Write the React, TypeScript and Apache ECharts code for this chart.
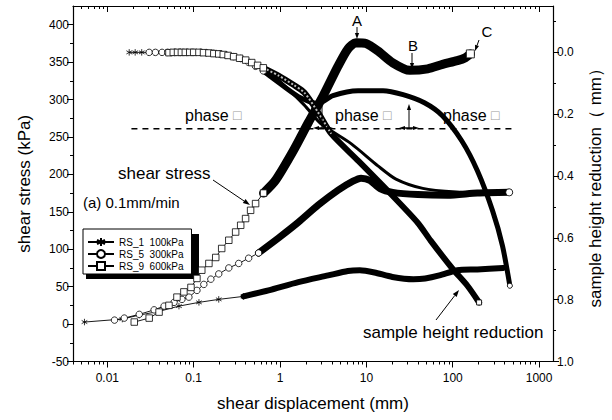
import React, { useEffect, useRef } from "react";
import * as echarts from "echarts";

// ---------- axis ticks ----------
const xLabelTicks = [0.01, 0.1, 1, 10, 100, 1000];
const xMinorTicks = [
  0.004, 0.005, 0.006, 0.007, 0.008, 0.009,
  0.02, 0.03, 0.04, 0.05, 0.06, 0.07, 0.08, 0.09,
  0.2, 0.3, 0.4, 0.5, 0.6, 0.7, 0.8, 0.9,
  2, 3, 4, 5, 6, 7, 8, 9,
  20, 30, 40, 50, 60, 70, 80, 90,
  200, 300, 400, 500, 600, 700, 800, 900,
];
const stressTicks = [-50, 0, 50, 100, 150, 200, 250, 300, 350, 400];
const stressMinorTicks = [-25, 25, 75, 125, 175, 225, 275, 325, 375];
const heightTicks = [0, 0.2, 0.4, 0.6, 0.8, 1.0];
const heightMinorTicks = [-0.1, 0.1, 0.3, 0.5, 0.7, 0.9];

// ---------- series data: [shear displacement (mm), value] ----------
const rs1Stress = [
  [0.00543, 2.7], [0.0149, 6.7], [0.0234, 12], [0.0397, 17], [0.0675, 24], [0.115, 29],
  [0.195, 33], [0.378, 37], [0.735, 45], [1.63, 56], [3.61, 65], [6.1, 71], [8.4, 72],
  [12.4, 69], [20, 63], [35, 60], [48, 61], [70, 65], [113, 72], [193, 73], [385, 75],
];
const rs5Stress = [
  [0.0121, 5.3], [0.0157, 8], [0.0234, 13], [0.0348, 19], [0.0454, 24], [0.0592, 29],
  [0.0731, 33], [0.088, 36], [0.109, 45], [0.131, 53], [0.158, 60], [0.195, 67],
  [0.255, 75], [0.332, 81], [0.433, 88], [0.564, 95], [0.96, 115], [1.63, 136],
  [2.77, 159], [4.71, 179], [7.0, 191], [8.67, 195], [11, 192], [14.4, 181], [20.2, 176],
  [39.3, 173], [87, 172], [193, 175], [451, 176],
];
const rs9Stress = [
  [0.0205, 2.7], [0.0305, 8], [0.0397, 16], [0.0517, 25], [0.064, 36], [0.077, 43],
  [0.093, 49], [0.109, 61], [0.124, 72], [0.15, 81], [0.18, 89], [0.211, 101],
  [0.255, 112], [0.306, 123], [0.35, 132], [0.399, 141], [0.456, 152], [0.521, 161],
  [0.644, 175], [0.885, 192], [1.43, 232], [2.12, 269], [3.16, 305], [4.71, 345],
  [6.14, 368], [7.59, 376], [9.89, 375], [13.6, 365], [20.2, 349], [31.8, 339],
  [51.3, 341], [76.3, 347], [113, 352], [140, 356], [160, 361],
];
const rs1Height = [
  [0.0179, 0.0], [0.021, 0.0], [0.025, 0.0], [0.03, 0.0], [0.035, 0.0], [0.042, 0.0],
  [0.05, 0.0], [0.06, 0.0], [0.07, 0.0], [0.085, 0.0], [0.1, 0.0], [0.12, 0.001],
  [0.15, 0.002], [0.18, 0.004], [0.22, 0.007], [0.27, 0.012], [0.33, 0.018], [0.43, 0.027],
  [0.55, 0.04], [0.7, 0.058], [0.96, 0.09], [1.9, 0.17], [2.98, 0.231], [6.7, 0.296],
  [13.6, 0.367], [22, 0.41], [45, 0.44], [110, 0.452], [250, 0.455], [440, 0.45],
];
const rs5Height = [
  [0.0305, 0.0], [0.036, 0.0], [0.043, 0.0], [0.05, 0.0], [0.06, 0.0], [0.07, 0.0],
  [0.083, 0.0], [0.1, 0.0], [0.12, 0.0], [0.14, 0.001], [0.17, 0.003], [0.2, 0.005],
  [0.24, 0.009], [0.29, 0.014], [0.35, 0.02], [0.43, 0.032], [0.52, 0.045], [0.64, 0.06],
  [0.84, 0.085], [1.63, 0.143], [2.77, 0.166], [4.1, 0.14], [8.0, 0.124], [15.6, 0.124],
  [26.6, 0.137], [47, 0.163], [76, 0.205], [127, 0.286], [193, 0.383], [289, 0.512],
  [377, 0.626], [459, 0.755],
];
const rs9Height = [
  [0.0517, 0.001], [0.058, 0.0], [0.065, 0.0], [0.072, 0.0], [0.08, 0.0], [0.09, 0.0],
  [0.1, 0.0], [0.115, 0.0], [0.13, 0.001], [0.15, 0.002], [0.171, 0.004], [0.195, 0.005],
  [0.22, 0.007], [0.25, 0.01], [0.29, 0.014], [0.34, 0.019], [0.4, 0.025], [0.47, 0.033],
  [0.55, 0.042], [0.64, 0.05], [0.96, 0.075], [1.43, 0.105], [1.91, 0.13], [2.77, 0.195],
  [3.91, 0.263], [8.0, 0.35], [17.7, 0.448], [39.3, 0.551], [55.5, 0.609], [99.5, 0.7],
  [148, 0.755], [202, 0.809],
];
const phaseBoundaryStress = 261;
const phaseLineX = [0.019, 515];

const legendNames = ["RS_1  100kPa", "RS_5  300kPa", "RS_9  600kPa"];

const ASTERISK = "path://M5,0L5,10M0.67,2.5L9.33,7.5M0.67,7.5L9.33,2.5";
const FONT = "Liberation Sans, Arial, Helvetica, sans-serif";

const markerStyle = { color: "#fff", borderColor: "#000", borderWidth: 0.8, opacity: 1 };

function curve(
  name: string,
  pts: number[][],
  split: number,
  symbol: string,
  yAxisIndex: number,
  bandWidth: number,
  hatched = false
) {
  const sparse = pts.filter((p) => p[0] <= split);
  const last = sparse[sparse.length - 1];
  const dense = pts.filter((p) => p[0] >= last[0]);
  const out: any[] = [
    {
      name,
      type: "line",
      yAxisIndex,
      data: sparse,
      symbol,
      symbolSize: 6.5,
      symbolKeepAspect: true,
      showAllSymbol: true,
      lineStyle: { color: "#000", width: 0.9 },
      itemStyle: markerStyle,
      z: 3,
    },
    {
      name: name + " band",
      type: "line",
      yAxisIndex,
      data: dense,
      symbol: "none",
      smooth: 0.25,
      lineStyle: { color: "#000", width: bandWidth, cap: "round", join: "round" },
      z: 2,
    },
  ];
  if (hatched) {
    out.push({
      name: name + " hatch",
      type: "line",
      yAxisIndex,
      data: dense.slice(0, 6),
      symbol: "none",
      smooth: 0.25,
      lineStyle: { color: "#bbb", width: 2, type: [2, 2] },
      z: 2,
    });
  }
  return out;
}

function endMarker(pt: number[], symbol: string, yAxisIndex: number, size = 7) {
  return {
    type: "scatter",
    yAxisIndex,
    data: [pt],
    symbol,
    symbolSize: size,
    itemStyle: markerStyle,
    z: 4,
    silent: true,
  };
}

function text(x: number, y: number, s: string, size: number, align = "left") {
  return {
    type: "text",
    x,
    y,
    z: 10,
    style: {
      text: s,
      fontSize: size,
      fontFamily: FONT,
      fill: "#000",
      align,
      verticalAlign: "middle",
    },
  };
}

function arrow(x1: number, y1: number, x2: number, y2: number, head = 7, w = 1) {
  const a = Math.atan2(y2 - y1, x2 - x1);
  const hx = x2 - head * Math.cos(a);
  const hy = y2 - head * Math.sin(a);
  const px = head * 0.35 * Math.sin(a);
  const py = -head * 0.35 * Math.cos(a);
  return [
    { type: "line", z: 10, shape: { x1, y1, x2: hx, y2: hy }, style: { stroke: "#000", lineWidth: w } },
    {
      type: "polygon",
      z: 10,
      shape: { points: [[x2, y2], [hx + px, hy + py], [hx - px, hy - py]] },
      style: { fill: "#000" },
    },
  ];
}

function doubleArrow(xc: number, y: number, half: number) {
  return [...arrow(xc, y, xc - half, y, 6, 1.5), ...arrow(xc, y, xc + half, y, 6, 1.5)];
}

function phaseText(x: number) {
  return {
    type: "text",
    x,
    y: 115,
    z: 10,
    style: {
      text: "phase {b|□}",
      fontSize: 16,
      fontFamily: FONT,
      fill: "#000",
      verticalAlign: "middle",
      rich: { b: { fontSize: 14, fill: "#999", fontFamily: FONT } },
    },
  };
}

export default function App() {
  const ref = useRef<HTMLDivElement>(null);
  useEffect(() => {
    if (!ref.current) return;
    const chart = echarts.init(ref.current, undefined, { renderer: "svg" });
    const axisLine = { show: true, onZero: false, lineStyle: { color: "#000", width: 1.2 } };
    const noLine = { show: false, onZero: false };
    const xBase = {
      type: "log",
      logBase: 10,
      min: 0.004,
      max: 1450,
      splitLine: { show: false },
    };
    const option: any = {
      animation: false,
      backgroundColor: "#fff",
      textStyle: { fontFamily: FONT, color: "#000" },
      grid: { left: 73, right: 56, top: 6, bottom: 58.5, containLabel: false },
      legend: {
        data: legendNames,
        orient: "vertical",
        left: 83,
        top: 229,
        itemWidth: 26,
        itemHeight: 10,
        itemGap: 2,
        padding: [8, 8, 3, 4],
        backgroundColor: "#fff",
        borderColor: "#000",
        borderWidth: 1,
        borderRadius: 0,
        textStyle: { fontSize: 10, color: "#000", fontFamily: FONT },
        selectedMode: false,
        z: 8,
      },
      xAxis: [
        {
          ...xBase,
          position: "bottom",
          name: "shear displacement (mm)",
          nameLocation: "middle",
          nameGap: 33,
          nameTextStyle: { fontSize: 17, color: "#000" },
          axisLine,
          axisTick: { show: true, inside: false, length: 6, customValues: xLabelTicks, lineStyle: { color: "#000" } },
          axisLabel: {
            customValues: xLabelTicks,
            fontSize: 12,
            color: "#000",
            margin: 10,
            formatter: (v: number) => String(+v.toPrecision(6)),
          },
        },
        {
          ...xBase,
          position: "bottom",
          axisLine: noLine,
          axisTick: { show: true, inside: false, length: 3, customValues: xMinorTicks, lineStyle: { color: "#000" } },
          axisLabel: { show: false },
        },
        {
          ...xBase,
          position: "top",
          axisLine,
          axisTick: { show: true, inside: true, length: 6, customValues: xLabelTicks, lineStyle: { color: "#000" } },
          axisLabel: { show: false },
        },
        {
          ...xBase,
          position: "top",
          axisLine: noLine,
          axisTick: { show: true, inside: true, length: 3, customValues: xMinorTicks, lineStyle: { color: "#000" } },
          axisLabel: { show: false },
        },
      ],
      yAxis: [
        {
          type: "value",
          position: "left",
          min: -50,
          max: 425,
          name: "shear stress (kPa)",
          nameLocation: "middle",
          nameRotate: 90,
          nameGap: 40,
          nameTextStyle: { fontSize: 17, color: "#000" },
          axisLine,
          splitLine: { show: false },
          axisTick: { show: true, length: 6, customValues: stressTicks, lineStyle: { color: "#000" } },
          axisLabel: { customValues: stressTicks, fontSize: 12, color: "#000", margin: 4 },
        },
        {
          type: "value",
          position: "right",
          inverse: true,
          min: -0.15,
          max: 1.0,
          name: "sample height reduction（ mm）",
          nameLocation: "middle",
          nameRotate: 90,
          nameGap: 34,
          nameTextStyle: { fontSize: 17, color: "#000", verticalAlign: "top" },
          axisLine,
          splitLine: { show: false },
          axisTick: { show: true, length: 6, customValues: heightTicks, lineStyle: { color: "#000" } },
          axisLabel: {
            customValues: heightTicks,
            fontSize: 12,
            color: "#000",
            margin: 4,
            formatter: (v: number) => v.toFixed(1),
          },
        },
        {
          type: "value",
          position: "left",
          min: -50,
          max: 425,
          axisLine: noLine,
          splitLine: { show: false },
          axisTick: { show: true, length: 3, customValues: stressMinorTicks, lineStyle: { color: "#000" } },
          axisLabel: { show: false },
        },
        {
          type: "value",
          position: "right",
          inverse: true,
          min: -0.15,
          max: 1.0,
          axisLine: noLine,
          splitLine: { show: false },
          axisTick: { show: true, length: 3, customValues: heightMinorTicks, lineStyle: { color: "#000" } },
          axisLabel: { show: false },
        },
      ],
      series: [
        {
          name: "phase boundary",
          type: "line",
          yAxisIndex: 0,
          data: phaseLineX.map((x) => [x, phaseBoundaryStress]),
          symbol: "none",
          lineStyle: { color: "#000", width: 1.3, type: [6, 5] },
          z: 1,
        },
        ...curve(legendNames[0], rs1Stress, 0.4, ASTERISK, 0, 6),
        ...curve(legendNames[1], rs5Stress, 0.6, "circle", 0, 7),
        ...curve(legendNames[2], rs9Stress, 0.65, "rect", 0, 9),
        ...curve("RS_1 height", rs1Height, 0.3, ASTERISK, 1, 3),
        ...curve("RS_5 height", rs5Height, 0.7, "circle", 1, 5),
        ...curve("RS_9 height", rs9Height, 0.7, "rect", 1, 6, true),
        endMarker(rs5Stress[rs5Stress.length - 1], "circle", 0, 7),
        endMarker(rs9Stress[rs9Stress.length - 1], "rect", 0, 8),
        endMarker(rs5Height[rs5Height.length - 1], "circle", 1, 5),
        endMarker(rs9Height[rs9Height.length - 1], "rect", 1, 5),
      ],
      graphic: [
        { type: "rect", z: 1, shape: { x: 86, y: 234, width: 113, height: 45 }, style: { fill: "#000" } },
        text(357, 20, "A", 15, "center"),
        ...arrow(357, 27, 357, 39, 6),
        text(413, 45, "B", 15, "center"),
        ...arrow(412, 53, 412, 69, 6),
        text(487, 31, "C", 15, "center"),
        ...arrow(479, 40, 475, 51, 6),
        phaseText(185),
        phaseText(335),
        phaseText(443),
        { type: "line", z: 10, shape: { x1: 322, y1: 106, x2: 322, y2: 128 }, style: { stroke: "#000", lineWidth: 1 } },
        ...doubleArrow(323, 128, 10),
        ...arrow(409, 128, 409, 104, 6),
        ...doubleArrow(409, 128, 10),
        text(118, 173, "shear stress", 17),
        ...arrow(213, 180, 250, 205, 7),
        text(83, 202, "(a) 0.1mm/min", 15),
        text(363, 332, "sample height reduction", 17),
        ...arrow(436, 320, 459, 290, 7),
      ],
    };
    chart.setOption(option);
    return () => chart.dispose();
  }, []);
  return (
    <div
      ref={ref}
      style={{ position: "fixed", left: 0, top: 0, width: 612, height: 420, background: "#fff" }}
    />
  );
}
